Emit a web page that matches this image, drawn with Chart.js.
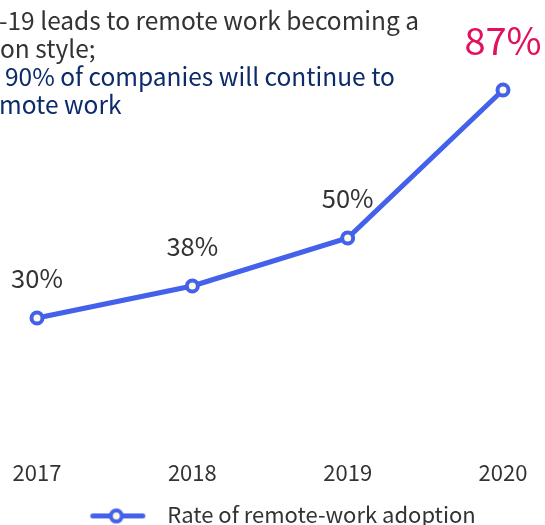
<!DOCTYPE html>
<html>
<head>
<meta charset="utf-8">
<script src="https://cdn.jsdelivr.net/npm/chart.js@4"></script>
<style>
  html, body { margin: 0; padding: 0; background: #fff; }
</style>
</head>
<body>
<canvas id="remote-work-chart" width="545" height="525"></canvas>
<script>
// 数据
const years = ['2017', '2018', '2019', '2020'];
const adoptionRate = [30, 38, 50, 87];
const seriesName = 'Rate of remote-work adoption';
const headlineDark = ['-19 leads to remote work becoming a', 'on style;'];
const headlineBlue = ['90% of companies will continue to', 'mote work'];

const FONT = '"Noto Sans CJK SC", "Noto Sans", sans-serif';
const LINE_BLUE = '#4361ea';
const DOT_FILL = '#fffae3';

Chart.defaults.font.family = FONT;
Chart.defaults.color = '#333';

// 图例标记：线 + 空心圆
function legendMarker() {
    const c = document.createElement('canvas');
    c.width = 92;
    c.height = 20;
    const g = c.getContext('2d');
    g.strokeStyle = LINE_BLUE;
    g.lineWidth = 5;
    g.lineCap = 'round';
    g.beginPath();
    g.moveTo(28.5, 11.6);
    g.lineTo(78.5, 11.6);
    g.stroke();
    g.beginPath();
    g.arc(52, 11.6, 5.5, 0, Math.PI * 2);
    g.fillStyle = DOT_FILL;
    g.fill();
    g.lineWidth = 4;
    g.stroke();
    return c;
}

// 左上角说明文字
const headline = {
    id: 'headline',
    afterDraw(chart) {
        const ctx = chart.ctx;
        ctx.save();
        ctx.font = '24.5px ' + FONT;
        ctx.textAlign = 'left';
        ctx.textBaseline = 'alphabetic';
        ctx.fillStyle = '#333';
        ctx.fillText(headlineDark[0], -1, 29.5);
        ctx.fillText(headlineDark[1], 0, 58);
        ctx.fillStyle = '#0c2b6b';
        ctx.fillText(headlineBlue[0], 5, 86);
        ctx.fillText(headlineBlue[1], -1, 114);
        ctx.restore();
    }
};

// 数据点上方的百分比标签，最大值用红色放大
const valueLabels = {
    id: 'valueLabels',
    afterDatasetsDraw(chart) {
        const ctx = chart.ctx;
        const meta = chart.getDatasetMeta(0);
        const peak = adoptionRate.indexOf(Math.max(...adoptionRate));
        ctx.save();
        ctx.textAlign = 'center';
        ctx.textBaseline = 'alphabetic';
        meta.data.forEach((pt, i) => {
            const hot = i === peak;
            ctx.font = (hot ? '38px ' : '25.5px ') + FONT;
            ctx.fillStyle = hot ? '#e2105e' : '#333';
            ctx.fillText(adoptionRate[i] + '%', pt.x, pt.y - (hot ? 35 : 30));
        });
        ctx.restore();
    }
};

new Chart(document.getElementById('remote-work-chart'), {
    type: 'line',
    data: {
        labels: years,
        datasets: [{
            label: seriesName,
            data: adoptionRate,
            borderColor: LINE_BLUE,
            borderWidth: 5,
            tension: 0,
            pointRadius: 5.5,
            pointBorderWidth: 4,
            pointBackgroundColor: DOT_FILL,
            pointBorderColor: LINE_BLUE
        }]
    },
    options: {
        responsive: false,
        animation: false,
        layout: {
            padding: { top: 38, left: 37, right: 42, bottom: -10.4 }
        },
        plugins: {
            tooltip: { enabled: false },
            legend: {
                position: 'bottom',
                labels: {
                    usePointStyle: true,
                    pointStyleWidth: 92,
                    padding: 0,
                    color: '#333',
                    font: { size: 22 },
                    generateLabels(chart) {
                        const items = Chart.defaults.plugins.legend.labels.generateLabels(chart);
                        items.forEach(it => { it.pointStyle = legendMarker(); });
                        return items;
                    }
                }
            }
        },
        scales: {
            x: {
                type: 'category',
                offset: false,
                afterFit(scale) {
                    scale.paddingLeft = 0;
                    scale.paddingRight = 0;
                    scale.height = 65.4;
                },
                grid: { display: false, drawTicks: false },
                border: { display: false },
                ticks: {
                    autoSkip: false,
                    maxRotation: 0,
                    padding: 21,
                    color: '#333',
                    font: { size: 22 }
                }
            },
            y: {
                display: false,
                min: 0,
                max: 100
            }
        }
    },
    plugins: [headline, valueLabels]
});
</script>
</body>
</html>
